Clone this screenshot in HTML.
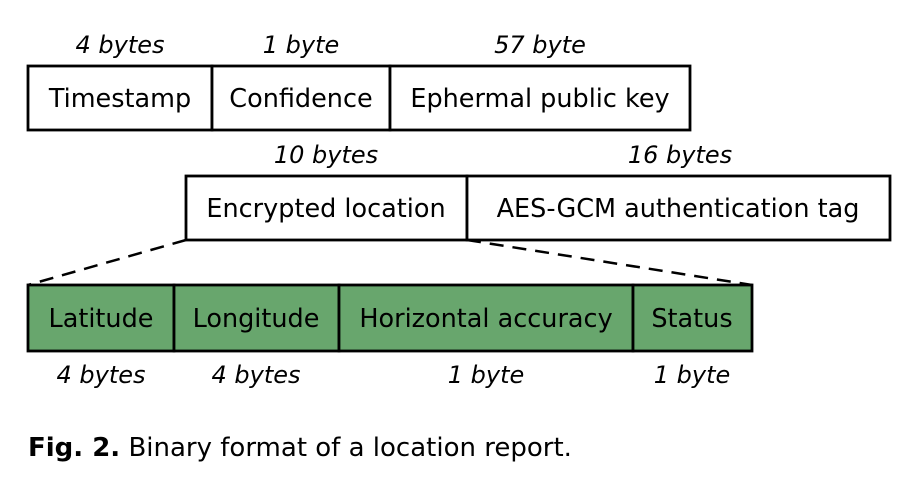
<!DOCTYPE html>
<html><head><meta charset="utf-8"><style>
body{margin:0;background:#fff}
svg{display:block}
text{font-family:"DejaVu Sans","Liberation Sans",sans-serif;fill:#000}
.l{font-size:25.5px}
.s{font-size:24px;font-style:italic}
rect{stroke:#000;stroke-width:2.8}
</style></head><body>
<svg width="922" height="484" viewBox="0 0 922 484">
<g>
<rect x="28" y="66" width="184" height="64" fill="#fff"/>
<rect x="212" y="66" width="178" height="64" fill="#fff"/>
<rect x="390" y="66" width="300" height="64" fill="#fff"/>
<text class="l" x="120" y="107" text-anchor="middle">Timestamp</text>
<text class="l" x="301" y="107" text-anchor="middle">Confidence</text>
<text class="l" x="540" y="107" text-anchor="middle">Ephermal public key</text>
<text class="s" x="120" y="53" text-anchor="middle">4 bytes</text>
<text class="s" x="301" y="53" text-anchor="middle">1 byte</text>
<text class="s" x="540" y="53" text-anchor="middle">57 byte</text>
</g>
<g>
<rect x="186" y="176" width="281" height="64" fill="#fff"/>
<rect x="467" y="176" width="423" height="64" fill="#fff"/>
<text class="l" x="326" y="217" text-anchor="middle">Encrypted location</text>
<text class="l" x="678" y="217" text-anchor="middle">AES-GCM authentication tag</text>
<text class="s" x="326" y="163" text-anchor="middle">10 bytes</text>
<text class="s" x="680" y="163" text-anchor="middle">16 bytes</text>
</g>
<line x1="186" y1="240" x2="28" y2="285" stroke="#000" stroke-width="2.5" stroke-dasharray="14,9"/>
<line x1="467" y1="240" x2="752" y2="285" stroke="#000" stroke-width="2.5" stroke-dasharray="14,9"/>
<g>
<rect x="28" y="285" width="146" height="66" fill="#68a66d"/>
<rect x="174" y="285" width="165" height="66" fill="#68a66d"/>
<rect x="339" y="285" width="294" height="66" fill="#68a66d"/>
<rect x="633" y="285" width="119" height="66" fill="#68a66d"/>
<text class="l" x="101" y="327" text-anchor="middle">Latitude</text>
<text class="l" x="256" y="327" text-anchor="middle">Longitude</text>
<text class="l" x="486" y="327" text-anchor="middle">Horizontal accuracy</text>
<text class="l" x="692" y="327" text-anchor="middle">Status</text>
<text class="s" x="101" y="383" text-anchor="middle">4 bytes</text>
<text class="s" x="256" y="383" text-anchor="middle">4 bytes</text>
<text class="s" x="486" y="383" text-anchor="middle">1 byte</text>
<text class="s" x="692" y="383" text-anchor="middle">1 byte</text>
</g>
<text x="28" y="456" style="font-size:26px"><tspan font-weight="bold">Fig. 2.</tspan> Binary format of a location report.</text>
</svg>
</body></html>
